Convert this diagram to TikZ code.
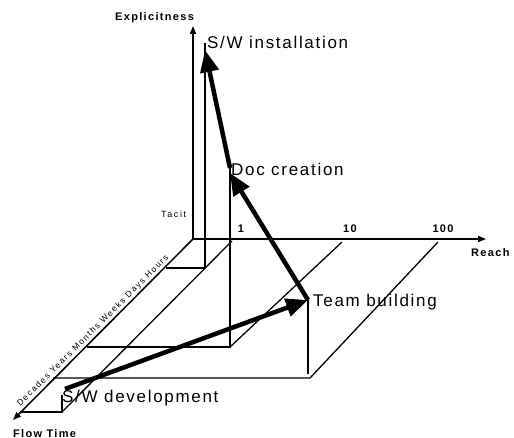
\documentclass[tikz,border=0pt]{standalone}
\usepackage{fontspec}
\setmainfont{Liberation Sans}
\newfontfamily\lblfont[LetterSpace=10]{Liberation Sans}
\newfontfamily\axfont[LetterSpace=12]{Liberation Sans Bold}
\newfontfamily\tmfont[LetterSpace=18]{Liberation Sans}
\usetikzlibrary{arrows.meta}
\begin{document}
\begin{tikzpicture}[x=1pt,y=-1pt,
  guide/.style={line width=1.3pt},
  axis/.style={line width=1.5pt,-{Triangle[length=8pt,width=6pt]}},
  flow/.style={line width=4.5pt,-{Triangle[length=22pt,width=18pt]}},
  lbl/.style={inner sep=0pt,anchor=base west,font=\lblfont\fontsize{17}{20}\selectfont},
  axl/.style={inner sep=0pt,anchor=base west,font=\axfont\fontsize{11}{13}\selectfont},
  num/.style={inner sep=0pt,anchor=base,font=\axfont\fontsize{11}{13}\selectfont},
  tm/.style={inner sep=0pt,anchor=center,rotate=45,font=\tmfont\fontsize{8.5}{10}\selectfont},
  small/.style={inner sep=0pt,anchor=base west,font=\tmfont\fontsize{9}{11}\selectfont}]
\useasboundingbox (0,0) rectangle (514,438);
% axes
\coordinate (O) at (193,239);
\coordinate (Etop) at (193,26);
\coordinate (Rend) at (486,239);
\coordinate (Tend) at (13,420);
\draw[axis] (O) -- (Etop);
\draw[axis] (O) -- (Rend);
\draw[axis] (O) -- (Tend);
% S/W installation projection
\coordinate (I) at (205,43);
\coordinate (Ig) at (205,268);
\coordinate (It) at (166,268);
\draw[guide] (I) -- (Ig) -- (It);
% Doc creation projection
\coordinate (D) at (230,167);
\coordinate (Dg) at (230,347);
\coordinate (Dt) at (87,347);
\coordinate (R10) at (342,242);
\draw[guide] (D) -- (Dg) -- (Dt);
\draw[guide] (R10) -- (Dg);
% Team building projection
\coordinate (Tb) at (308,300);
\coordinate (Tg) at (308,374);
\coordinate (C100) at (310,378);
\coordinate (Tt) at (53,378);
\coordinate (R100) at (438,242);
\draw[guide] (Tb) -- (Tg);
\draw[guide] (Tt) -- (C100) -- (R100);
% S/W development projection
\coordinate (S) at (62,395);
\coordinate (Sg) at (62,412);
\coordinate (St) at (20,412);
\coordinate (R1) at (232,241);
\draw[guide] (S) -- (Sg) -- (St);
\draw[guide] (R1) -- (Sg);
% flow arrows
\coordinate (A1s) at (65,389);
\coordinate (A2e) at (230,173);
\coordinate (A3s) at (230,168);
\coordinate (A3e) at (205,50);
\draw[flow] (A1s) -- (Tb);
\draw[flow] (Tb) -- (A2e);
\draw[flow] (A3s) -- (A3e);
% labels
\node[axl] (lexp) at (115,21) {Explicitness};
\node[axl] (lreach) at (471,257) {Reach};
\node[axl] (lflow) at (13,437) {Flow Time};
\node[num] (l1) at (241,233) {1};
\node[num] (l10) at (350,233) {10};
\node[num] (l100) at (443,233) {100};
\node[small] (ltacit) at (161,218) {Tacit};
\node[lbl] (linst) at (207,49) {S/W installation};
\node[lbl] (ldoc) at (231,176) {Doc creation};
\node[lbl] (lteam) at (313,306) {Team building};
\node[lbl] (ldev) at (62,402) {S/W development};
\node[tm] (ttime) at (93,331) {Decades Years Months Weeks Days Hours};
\end{tikzpicture}
\end{document}
